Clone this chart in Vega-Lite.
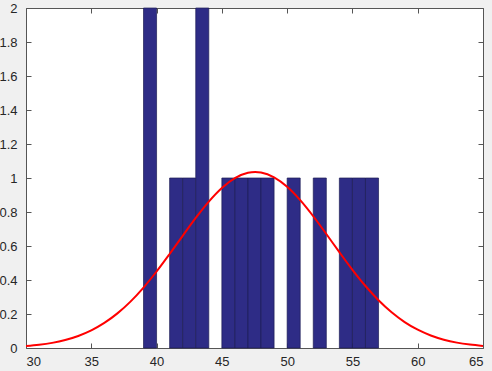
{
  "$schema": "https://vega.github.io/schema/vega-lite/v6.json",
  "width": 457,
  "height": 340,
  "autosize": {"type": "none"},
  "padding": {"left": 26, "top": 8, "right": 9, "bottom": 23},
  "background": "#f0f0f0",
  "view": {"fill": "white", "stroke": "#555555", "strokeWidth": 1},
  "config": {
    "axis": {
      "grid": false,
      "domain": false,
      "tickColor": "#555555",
      "tickSize": -5,
      "labelFont": "Liberation Sans",
      "labelFontSize": 13,
      "labelColor": "#262626",
      "format": "~g",
      "title": null
    }
  },
  "datasets": {
    "bars": [
      {"start": 39, "end": 40, "count": 2},
      {"start": 41, "end": 42, "count": 1},
      {"start": 42, "end": 43, "count": 1},
      {"start": 43, "end": 44, "count": 2},
      {"start": 45, "end": 46, "count": 1},
      {"start": 46, "end": 47, "count": 1},
      {"start": 47, "end": 48, "count": 1},
      {"start": 48, "end": 49, "count": 1},
      {"start": 50, "end": 51, "count": 1},
      {"start": 52, "end": 53, "count": 1},
      {"start": 54, "end": 55, "count": 1},
      {"start": 55, "end": 56, "count": 1},
      {"start": 56, "end": 57, "count": 1}
    ],
    "curve": [
      {"x": 30, "y": 0.0115}, {"x": 31, "y": 0.0189}, {"x": 32, "y": 0.0302},
      {"x": 33, "y": 0.0469}, {"x": 34, "y": 0.0708}, {"x": 35, "y": 0.1037},
      {"x": 36, "y": 0.1474}, {"x": 37, "y": 0.2036}, {"x": 38, "y": 0.273},
      {"x": 39, "y": 0.3557}, {"x": 40, "y": 0.45}, {"x": 41, "y": 0.553},
      {"x": 42, "y": 0.6599}, {"x": 43, "y": 0.7649}, {"x": 44, "y": 0.861},
      {"x": 45, "y": 0.9412}, {"x": 46, "y": 0.9993}, {"x": 47, "y": 1.0304},
      {"x": 47.55, "y": 1.035}, {"x": 48, "y": 1.0319}, {"x": 49, "y": 1.0037},
      {"x": 50, "y": 0.9481}, {"x": 51, "y": 0.8698}, {"x": 52, "y": 0.775},
      {"x": 53, "y": 0.6707}, {"x": 54, "y": 0.5636}, {"x": 55, "y": 0.46},
      {"x": 56, "y": 0.3646}, {"x": 57, "y": 0.2808}, {"x": 58, "y": 0.2099},
      {"x": 59, "y": 0.1525}, {"x": 60, "y": 0.1075}, {"x": 61, "y": 0.0736},
      {"x": 62, "y": 0.049}, {"x": 63, "y": 0.0316}, {"x": 64, "y": 0.0199},
      {"x": 65, "y": 0.0121}
    ]
  },
  "layer": [
    {
      "data": {"name": "bars"},
      "mark": {"type": "bar", "fill": "#2e2c86", "stroke": "#1c1c55", "strokeWidth": 0.7},
      "encoding": {
        "x": {"field": "start", "type": "quantitative", "scale": {"domain": [30, 65], "nice": false}, "axis": {"values": [30, 35, 40, 45, 50, 55, 60, 65], "labelPadding": 12}},
        "x2": {"field": "end"},
        "y": {"field": "count", "type": "quantitative", "scale": {"domain": [0, 2], "nice": false}, "axis": {"values": [0, 0.2, 0.4, 0.6, 0.8, 1, 1.2, 1.4, 1.6, 1.8, 2], "labelPadding": 14}},
        "y2": {"datum": 0}
      }
    },
    {
      "data": {"name": "curve"},
      "mark": {"type": "line", "color": "#ff0000", "strokeWidth": 2, "interpolate": "monotone", "clip": true},
      "encoding": {
        "x": {"field": "x", "type": "quantitative", "axis": {"orient": "top", "labels": false, "values": [30, 35, 40, 45, 50, 55, 60, 65]}},
        "y": {"field": "y", "type": "quantitative", "axis": {"orient": "right", "labels": false, "values": [0, 0.2, 0.4, 0.6, 0.8, 1, 1.2, 1.4, 1.6, 1.8, 2]}}
      }
    }
  ],
  "resolve": {"axis": {"x": "independent", "y": "independent"}}
}
